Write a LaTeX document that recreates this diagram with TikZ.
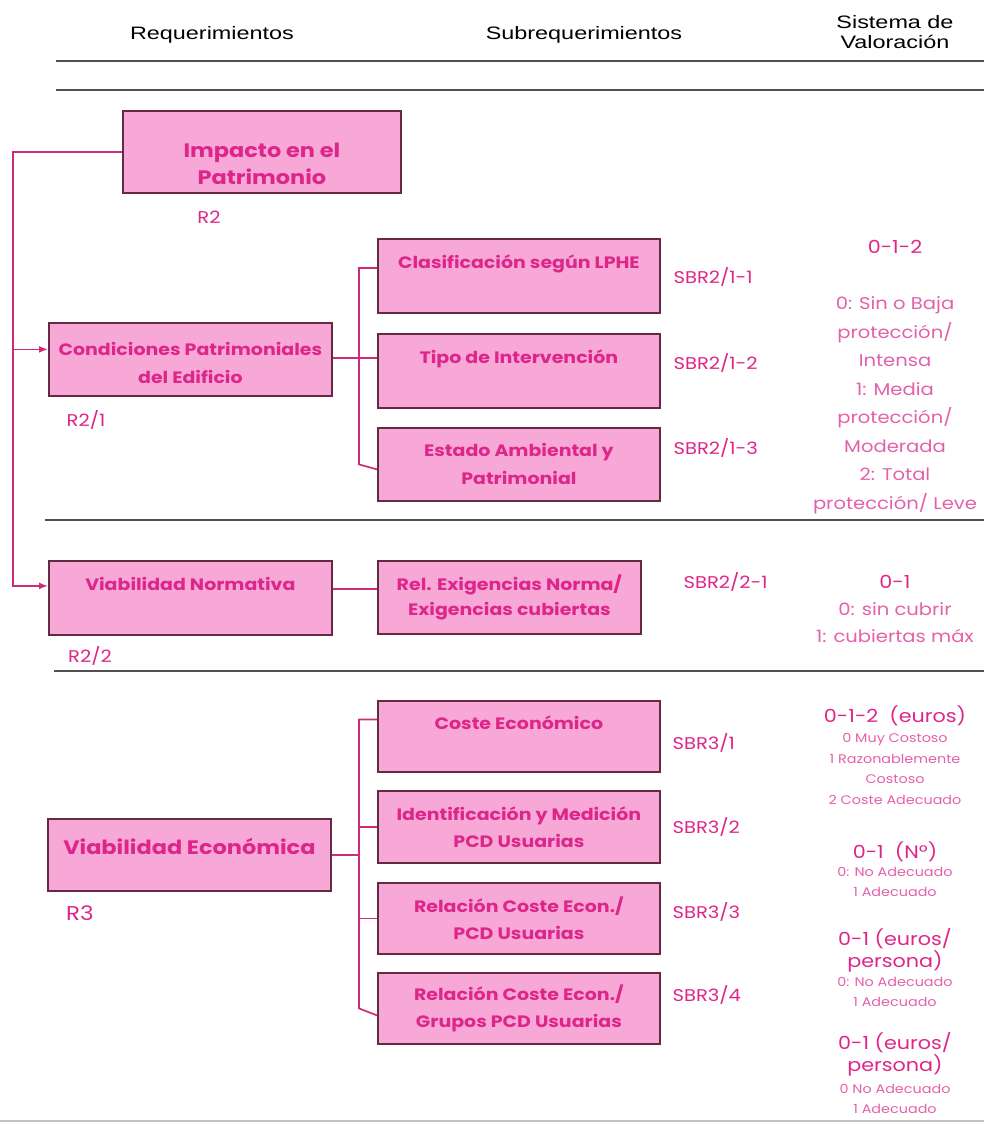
\documentclass[tikz,border=0pt]{standalone}
\usepackage{fontspec}
\usetikzlibrary{arrows.meta}
\newfontfamily\hdrfont[FakeStretch=1.3]{Liberation Sans}
\newfontfamily\comicfont[FakeStretch=1.15]{Poppins}
\definecolor{boxpink}{RGB}{247,168,214}
\definecolor{boxedge}{RGB}{100,42,66}
\definecolor{magtext}{RGB}{222,38,138}
\definecolor{softtext}{RGB}{228,96,170}
\definecolor{linkmag}{RGB}{208,42,122}
\definecolor{rulegray}{RGB}{80,80,80}
\tikzstyle{reqbox}=[draw=boxedge, fill=boxpink, line width=1.8pt, anchor=north west, inner sep=0pt, align=center, text=magtext, font=\comicfont\bfseries\fontsize{16.5}{28}\selectfont]
\tikzstyle{subbox}=[reqbox, minimum width=282pt]
\tikzstyle{bigtext}=[font=\comicfont\bfseries\fontsize{19.5}{27}\selectfont]
\tikzstyle{sbrcode}=[text=magtext, font=\comicfont\fontsize{17}{20}\selectfont]
\tikzstyle{valtext}=[text=magtext, font=\comicfont\fontsize{18}{22}\selectfont, align=center]
\tikzstyle{valnote}=[text=softtext, font=\comicfont\fontsize{17}{28.5}\selectfont, align=center]
\tikzstyle{valsmall}=[text=softtext, font=\comicfont\fontsize{12.5}{20.5}\selectfont, align=center]
\tikzstyle{headtext}=[text=black, font=\hdrfont\fontsize{18}{20}\selectfont, align=center]
\tikzstyle{hrule}=[draw=rulegray, line width=1.3pt]
\tikzstyle{conn}=[draw=linkmag, line width=1.7pt]

\begin{document}
\begin{tikzpicture}[x=1pt, y=-1pt, >={Latex[length=9pt,width=7pt]}]
\useasboundingbox (0,0) rectangle (984,1124);
% Header
    \node[headtext] (hreq) at (212,35) {Requerimientos};
    \node[headtext] (hsub) at (584,35) {Subrequerimientos};
    \node[headtext] (hval) at (895,32) {Sistema de\\Valoración};
    \draw[hrule] (56,61) -- (984,61);
    \draw[hrule] (56,90) -- (984,90);
    \draw[hrule] (45,520) -- (984,520);
    \draw[hrule] (54,671) -- (984,671);
    \draw[hrule, draw=rulegray!35] (0,1121) -- (984,1121);
% Requirements
    \node[reqbox, bigtext, minimum width=278pt, minimum height=82pt] (impacto) at (122,110) {\rule{0pt}{38pt}Impacto en el\\Patrimonio};
    \node[reqbox, minimum width=283pt, minimum height=73pt] (cond) at (48,322) {\rule{0pt}{20pt}Condiciones Patrimoniales\\del Edificio};
    \node[reqbox, minimum width=283pt, minimum height=74pt] (vnorm) at (48,560) {Viabilidad Normativa\\\mbox{}};
    \node[reqbox, bigtext, minimum width=283pt, minimum height=72pt] (vecon) at (47,818) {Viabilidad Económica\\[-9pt]\mbox{}};
    \node[sbrcode] (r2) at (209,217) {R2};
    \node[sbrcode] (r21) at (86,420) {R2/1};
    \node[sbrcode] (r22) at (90,656) {R2/2};
    \node[sbrcode, font=\comicfont\fontsize{20}{22}\selectfont] (r3) at (80,913) {R3};
% Subrequirements
    \node[subbox, minimum height=74pt] (clas) at (377,238) {Clasificación según LPHE\\\mbox{}};
    \node[subbox, minimum height=74pt] (tipo) at (377,333) {Tipo de Intervención\\\mbox{}};
    \node[subbox, minimum height=73pt] (estado) at (377,427) {Estado Ambiental y\\Patrimonial};
    \node[subbox, minimum width=263pt, minimum height=73pt, font=\comicfont\bfseries\fontsize{16.5}{25}\selectfont] (rel) at (377,560) {Rel. Exigencias Norma/\\Exigencias cubiertas};
    \node[subbox, minimum height=71pt] (coste) at (377,700) {Coste Económico\\\mbox{}};
    \node[subbox, minimum height=72pt, font=\comicfont\bfseries\fontsize{16.5}{27}\selectfont] (ident) at (377,790) {Identificación y Medición\\PCD Usuarias};
    \node[subbox, minimum height=71pt, font=\comicfont\bfseries\fontsize{16.5}{27}\selectfont] (rce) at (377,882) {Relación Coste Econ./\\PCD Usuarias};
    \node[subbox, minimum height=71pt, font=\comicfont\bfseries\fontsize{16.5}{27}\selectfont] (rcg) at (377,972) {Relación Coste Econ./\\Grupos PCD Usuarias};
    \node[sbrcode, anchor=west] (s211) at (670,277) {SBR2/1-1};
    \node[sbrcode, anchor=west] (s212) at (670,363) {SBR2/1-2};
    \node[sbrcode, anchor=west] (s213) at (670,448) {SBR2/1-3};
    \node[sbrcode, anchor=west] (s221) at (680,582) {SBR2/2-1};
    \node[sbrcode, anchor=west] (s31) at (669,743) {SBR3/1};
    \node[sbrcode, anchor=west] (s32) at (669,827) {SBR3/2};
    \node[sbrcode, anchor=west] (s33) at (669,912) {SBR3/3};
    \node[sbrcode, anchor=west] (s34) at (669,995) {SBR3/4};
% Valuation
    \node[valtext] (v1) at (895,247) {0-1-2};
    \node[valnote] (v1n) at (895,405) {0: Sin o Baja\\protección/\\Intensa\\1: Media\\protección/\\Moderada\\2: Total\\protección/ Leve};
    \node[valtext] (v2) at (895,582) {0-1};
    \node[valnote, font=\comicfont\fontsize{17}{27}\selectfont] (v2n) at (895,623) {0: sin cubrir\\1: cubiertas máx};
    \node[valtext] (v3) at (895,716) {0-1-2\ \ (euros)};
    \node[valsmall] (v3n) at (895,769) {0 Muy Costoso\\1 Razonablemente\\Costoso\\2 Coste Adecuado};
    \node[valtext] (v4) at (895,852) {0-1\ \ (Nº)};
    \node[valsmall] (v4n) at (895,882) {0: No Adecuado\\1 Adecuado};
    \node[valtext] (v5) at (895,950) {0-1 (euros/\\persona)};
    \node[valsmall] (v5n) at (895,992) {0: No Adecuado\\1 Adecuado};
    \node[valtext] (v6) at (895,1054) {0-1 (euros/\\persona)};
    \node[valsmall] (v6n) at (895,1099) {0 No Adecuado\\1 Adecuado};
% Connectors
    \coordinate (trunk) at (13,0);
    \coordinate (bus) at (359,0);
    \coordinate (condin) at ([yshift=10pt]cond.west);
    \coordinate (vnormin) at ([yshift=12pt]vnorm.west);
    \draw[conn, ->] (impacto.west) -| (trunk |- vnormin) -- (vnormin);
    \draw[conn, ->] (trunk |- condin) -- (condin);
    \draw[conn] ([yshift=8pt]clas.west) -| (bus |- estado.west) -- ([yshift=-5pt]estado.west);
    \draw[conn] ([yshift=13pt]tipo.west) -- ([yshift=13pt]tipo.west -| cond.east);
    \draw[conn] ([yshift=9pt]vnorm.east) -- ([yshift=9pt]vnorm.east -| rel.west);
    \draw[conn] ([yshift=17pt]coste.west) -| (bus |- rcg.west) -- ([yshift=-7pt]rcg.west);
    \draw[conn] (ident.west) -- (bus |- ident.west);
    \draw[conn] (rce.west) -- (bus |- rce.west);
    \draw[conn] (vecon.east) -- (bus |- vecon.east);
\end{tikzpicture}
\end{document}
